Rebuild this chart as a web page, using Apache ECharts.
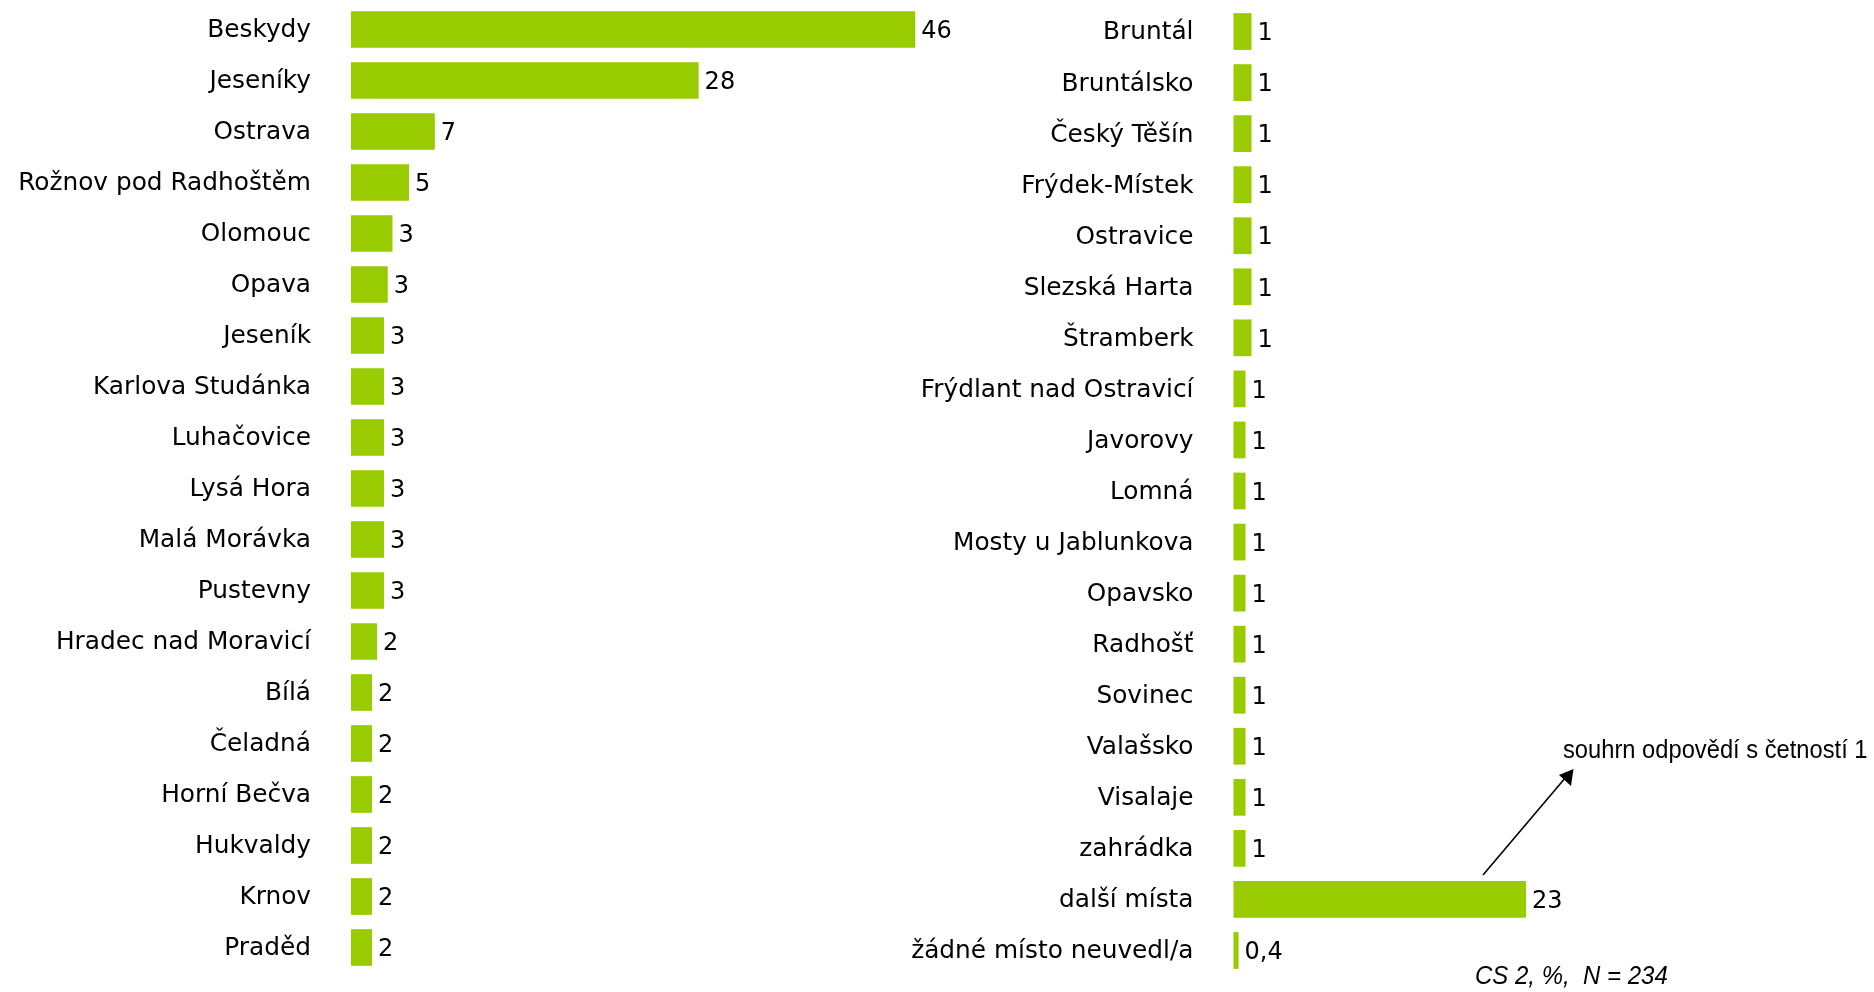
<!DOCTYPE html>
<html>
<head>
<meta charset="utf-8">
<script src="https://cdn.jsdelivr.net/npm/echarts@6/dist/echarts.min.js"></script>
<style>
  html, body { margin: 0; padding: 0; background: #fff; }
  #chart { width: 1874px; height: 992px; }
</style>
</head>
<body>
<div id="chart"></div>
<script>
const leftCategories = ['Beskydy', 'Jeseníky', 'Ostrava', 'Rožnov pod Radhoštěm', 'Olomouc', 'Opava', 'Jeseník',
  'Karlova Studánka', 'Luhačovice', 'Lysá Hora', 'Malá Morávka', 'Pustevny', 'Hradec nad Moravicí', 'Bílá',
  'Čeladná', 'Horní Bečva', 'Hukvaldy', 'Krnov', 'Praděd'];
const leftValues = [46.1, 28.4, 6.85, 4.74, 3.39, 3.0, 2.7, 2.7, 2.7, 2.7, 2.7, 2.7, 2.13, 1.72, 1.72, 1.72, 1.72, 1.72, 1.72];

const rightCategories = ['Bruntál', 'Bruntálsko', 'Český Těšín', 'Frýdek-Místek', 'Ostravice', 'Slezská Harta', 'Štramberk',
  'Frýdlant nad Ostravicí', 'Javorovy', 'Lomná', 'Mosty u Jablunkova', 'Opavsko', 'Radhošť', 'Sovinec', 'Valašsko',
  'Visalaje', 'zahrádka', 'další místa', 'žádné místo neuvedl/a'];
const rightValues = [1.42, 1.42, 1.42, 1.42, 1.42, 1.42, 1.42, 0.95, 0.95, 0.95, 0.95, 0.95, 0.95, 0.95, 0.95, 0.95, 0.95, 23.1, 0.4];

const annotationText = 'souhrn odpovědí s četností 1';
const footnoteText = 'CS 2, %,  N = 234';

const BAR = '#99cc00';
const LABEL_FONT = 'DejaVu Sans';

function fmt(v) {
  const r = Math.round(v);
  return r >= 1 ? String(r) : v.toFixed(1).replace('.', ',');
}

const chart = echarts.init(document.getElementById('chart'), null, { renderer: 'canvas' });

function catAxis(idx, cats) {
  return {
    type: 'category', gridIndex: idx, data: cats, inverse: true,
    axisLine: { show: false }, axisTick: { show: false }, splitLine: { show: false },
    axisLabel: {
      margin: 40, interval: 0,
      formatter: v => '{a|' + v + '}',
      rich: { a: { color: '#000', fontFamily: LABEL_FONT, fontSize: 24.8, padding: [3, 0, 0, 0] } }
    }
  };
}
function valAxis(idx, max) {
  return { type: 'value', gridIndex: idx, min: 0, max: max, show: false, splitLine: { show: false } };
}
function barSeries(idx, vals) {
  return {
    type: 'bar', xAxisIndex: idx, yAxisIndex: idx, data: vals,
    barCategoryGap: '28%',
    itemStyle: { color: BAR },
    label: {
      show: true, position: 'right', distance: 6, color: '#000', offset: [0, 2.5],
      fontFamily: LABEL_FONT, fontSize: 24,
      formatter: p => fmt(p.value)
    },
    silent: true, animation: false
  };
}

chart.setOption({
  animation: false,
  backgroundColor: '#fff',
  grid: [
    { left: 351, width: 612, top: 4, bottom: 19, containLabel: false, outerBoundsMode: 'none' },
    { left: 1233.5, width: 380, top: 6, bottom: 16, containLabel: false, outerBoundsMode: 'none' }
  ],
  xAxis: [valAxis(0, 50), valAxis(1, 30)],
  yAxis: [catAxis(0, leftCategories), catAxis(1, rightCategories)],
  series: [barSeries(0, leftValues), barSeries(1, rightValues)],
  graphic: [
    {
      type: 'text', x: 1563, y: 751, scaleX: 0.93,
      style: { text: annotationText, fill: '#000', font: '25.5px "Liberation Sans", Arial, sans-serif', verticalAlign: 'middle' }
    },
    {
      type: 'line',
      shape: { x1: 1483, y1: 875, x2: 1566, y2: 777 },
      style: { stroke: '#000', lineWidth: 1.6 }
    },
    {
      type: 'polygon',
      shape: { points: [[1573.5, 769], [1559, 775], [1571, 786]] },
      style: { fill: '#000' }
    },
    {
      type: 'text', x: 1475, y: 977, scaleX: 0.96,
      style: { text: footnoteText, fill: '#000', font: 'italic 25px "Liberation Sans", Arial, sans-serif', verticalAlign: 'middle' }
    }
  ]
});
</script>
</body>
</html>
